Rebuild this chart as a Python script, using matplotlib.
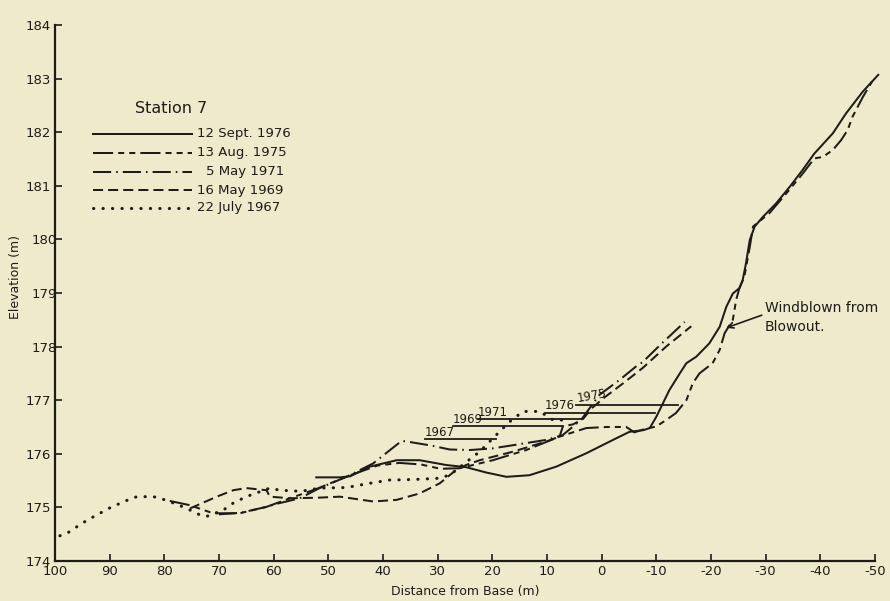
import matplotlib
matplotlib.use('Agg')
import matplotlib.pyplot as plt
import matplotlib.transforms as mtransforms

# profile data (distance from base, elevation)
dist_1976 = [52.2, 47.9, 46.0, 42.4, 37.5, 33.3, 28.4, 24.8, 21.1, 17.4, 13.2, 8.3, 2.8, -2.1, -5.1,
             -7.6, -8.8, -10.0, -11.2, -12.4, -14.3, -15.5, -17.3, -19.7, -21.6, -22.8, -24.0, -25.2,
             -25.8, -26.4, -27.1, -28.0, -29.5, -31.9, -34.4, -36.8, -38.9, -42.3, -44.7, -47.8, -50.6]
elev_1976 = [175.56, 175.56, 175.58, 175.76, 175.88, 175.88, 175.79, 175.75, 175.65, 175.57, 175.6,
             175.76, 176.01, 176.26, 176.41, 176.44, 176.48, 176.69, 176.94, 177.19, 177.5, 177.69,
             177.81, 178.06, 178.37, 178.74, 178.99, 179.09, 179.24, 179.55, 179.99, 180.24, 180.42,
             180.67, 180.98, 181.3, 181.6, 181.98, 182.35, 182.76, 183.07]

dist_1975 = [79.0, 75.3, 71.1, 66.2, 61.3, 57.0, 52.0, 46.0, 41.0, 37.0, 33.0, 29.5, 26.0, 19.9, 13.8,
             7.7, 2.8, -0.9, -4.5, -6.0, -7.5, -10.0, -11.8, -13.6, -15.5, -16.7, -17.9, -20.3, -21.6,
             -22.5, -24.0, -24.3, -24.6, -25.2, -26.1, -27.1, -27.7, -30.7, -33.8, -36.8, -38.9, -40.5,
             -42.3, -43.8, -45.0, -45.9, -47.8, -49.5]
elev_1975 = [175.12, 175.04, 174.89, 174.89, 175.01, 175.17, 175.35, 175.6, 175.78, 175.83, 175.8,
             175.72, 175.73, 175.88, 176.07, 176.32, 176.48, 176.5, 176.5, 176.4, 176.45, 176.51,
             176.63, 176.76, 177.0, 177.32, 177.5, 177.69, 177.94, 178.25, 178.5, 178.68, 178.87,
             179.09, 179.3, 179.86, 180.24, 180.49, 180.86, 181.23, 181.51, 181.54, 181.67, 181.85,
             182.04, 182.29, 182.66, 182.95]

dist_1971 = [70.0, 66.0, 61.3, 58.9, 55.2, 51.6, 46.7, 41.8, 36.6, 35.7, 31.0, 27.8, 24.1, 20.0, 16.2,
             10.1, 7.1, 3.7, 2.2, 0.4, -3.3, -6.3, -7.5, -10.6, -15.2]
elev_1971 = [174.87, 174.9, 175.01, 175.08, 175.17, 175.36, 175.57, 175.82, 176.24, 176.23, 176.15,
             176.08, 176.07, 176.1, 176.16, 176.26, 176.35, 176.64, 176.85, 177.1, 177.38, 177.63,
             177.71, 178.02, 178.46]

dist_1969 = [75.3, 70.4, 67.4, 65.0, 61.3, 60.7, 57.0, 52.0, 47.9, 41.8, 37.5, 33.3, 29.6, 26.6, 24.8,
             22.3, 16.2, 10.1, 7.7, 7.1, 5.2, 3.4, 1.8, -0.5, -4.0, -7.5, -11.8, -16.4]
elev_1969 = [174.98, 175.2, 175.32, 175.36, 175.32, 175.2, 175.17, 175.18, 175.2, 175.11, 175.14,
             175.26, 175.45, 175.7, 175.79, 175.88, 176.04, 176.23, 176.32, 176.51, 176.55, 176.65,
             176.85, 177.05, 177.32, 177.6, 178.0, 178.38]

dist_1967 = [99.1, 97.6, 95.1, 92.7, 89.8, 86.4, 85.0, 82.0, 80.2, 77.5, 75.3, 73.5, 72.3, 69.2, 67.4,
             65.0, 60.7, 58.9, 55.0, 51.6, 46.7, 42.4, 38.8, 34.5, 30.2, 27.8, 24.7, 22.3, 19.0, 16.8,
             14.4, 11.3, 8.9, 6.5]
elev_1967 = [174.47, 174.53, 174.7, 174.84, 175.0, 175.15, 175.2, 175.2, 175.15, 175.05, 174.95,
             174.86, 174.83, 174.95, 175.08, 175.2, 175.36, 175.32, 175.3, 175.36, 175.37, 175.45,
             175.51, 175.52, 175.54, 175.6, 175.85, 176.04, 176.38, 176.6, 176.79, 176.79, 176.63,
             176.63]

legend_labels = ['12 Sept. 1976', '13 Aug. 1975', '5 May 1971', '16 May 1969', '22 July 1967']

# year marks (horizontal lines with the survey year)
mark_years = ['1967', '1969', '1971', '1976', '1975']
mark_elev = [176.27, 176.51, 176.64, 176.77, 176.91]
mark_start = [32.4, 27.2, 22.6, 10.4, 4.7]
mark_end = [19.3, 7.1, 3.7, -9.7, -13.9]

xticks = [100, 90, 80, 70, 60, 50, 40, 30, 20, 10, 0, -10, -20, -30, -40, -50]
yticks = [174, 175, 176, 177, 178, 179, 180, 181, 182, 183, 184]

bg = '#efeacb'
ink = '#1e1c18'
lw = 1.45

styles = [
    dict(ls='-'),
    dict(ls=(0, (10, 2.5, 3, 2.5, 3, 2.5))),
    dict(ls=(0, (9, 2.5, 0.8, 2.5))),
    dict(ls=(0, (5, 2.5))),
    dict(ls=(0, (0.1, 3.0)), dash_capstyle='round', lw=2.2),
]

plt.rcParams['axes.unicode_minus'] = False
plt.rcParams['font.family'] = 'DejaVu Sans'

fig = plt.figure(figsize=(8.9, 6.01), dpi=100, facecolor=bg)
ax = fig.add_axes([0.0618, 0.0666, 0.9213, 0.8918], facecolor=bg)

profiles = [(dist_1976, elev_1976), (dist_1975, elev_1975), (dist_1971, elev_1971),
            (dist_1969, elev_1969), (dist_1967, elev_1967)]
for (d, e), st in zip(profiles, styles):
    kw = dict(color=ink, lw=lw, clip_on=False)
    kw.update(st)
    ax.plot(d, e, **kw)

# year marks
for yr, el, x0, x1 in zip(mark_years, mark_elev, mark_start, mark_end):
    ax.plot([x0, x1], [el, el], color=ink, lw=1.3)
    rot = 10 if yr == '1975' else 0
    ax.text(x0, el + 0.01, yr, ha='left', va='bottom', fontsize=8.5, color=ink, rotation=rot)

# hand drawn legend
ax.text(85.4, 182.45, 'Station 7', fontsize=11.5, color=ink, va='center', ha='left')
leg_y = [181.97, 181.62, 181.26, 180.92, 180.59]
for i, (lab, st) in enumerate(zip(legend_labels, styles)):
    kw = dict(color=ink, lw=lw)
    kw.update(st)
    ax.plot([93.0, 75.0], [leg_y[i], leg_y[i]], **kw)
    tx = 72.3 if i == 2 else 74.1
    ax.text(tx, leg_y[i], lab, fontsize=9.5, color=ink, va='center', ha='left')

# annotation
ax.annotate('Windblown from\nBlowout.', xy=(-22.8, 178.35), xytext=(-29.8, 178.85),
            fontsize=10, color=ink, ha='left', va='top', linespacing=1.45,
            arrowprops=dict(arrowstyle='->', color=ink, lw=1.2, shrinkA=0, shrinkB=0,
                            relpos=(0.0, 0.6)))

ax.set_xlim(100, -50)
ax.set_ylim(174, 184)
ax.set_xticks(xticks)
ax.set_xticklabels([str(t) for t in xticks])
ax.set_yticks(yticks)
ax.tick_params(direction='in', length=5, width=1.2, colors=ink, labelsize=9.5, pad=3)
for s in ['top', 'right']:
    ax.spines[s].set_visible(False)
for s in ['left', 'bottom']:
    ax.spines[s].set_linewidth(1.6)
    ax.spines[s].set_color(ink)
ax.set_xlabel('Distance from Base (m)', fontsize=9, color=ink, labelpad=5)
ax.set_ylabel('Elevation (m)', fontsize=9, color=ink)
ax.yaxis.set_label_coords(-0.040, 0.53)

# the labels beside the axis title sit closer to the axis
shift = mtransforms.ScaledTranslation(6 / 100, 0, fig.dpi_scale_trans)
for t, lab in zip(ax.get_yticks(), ax.get_yticklabels()):
    if t in (178, 179, 180):
        lab.set_transform(lab.get_transform() + shift)

fig.savefig('out.png', dpi=100, facecolor=bg)
